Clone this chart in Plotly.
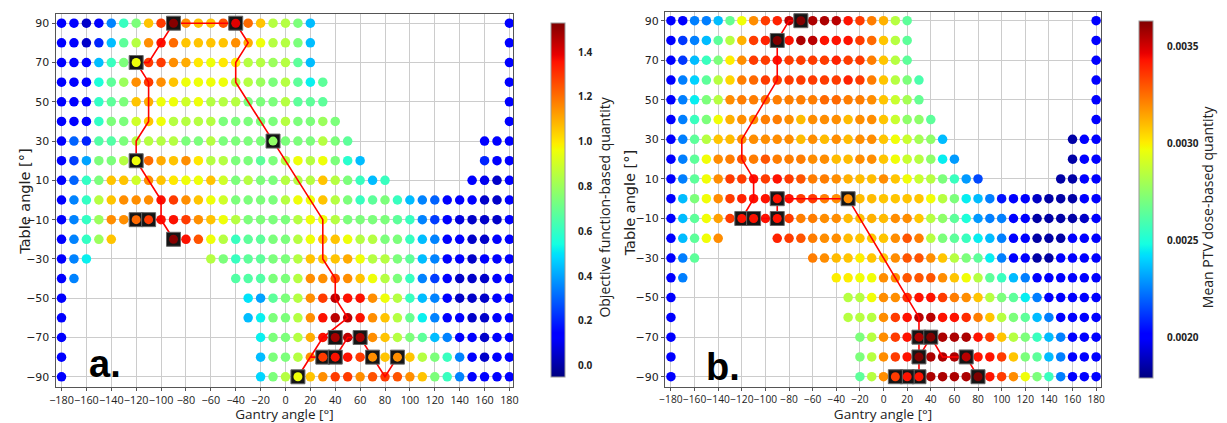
import numpy as np
import plotly.graph_objects as go

# ---------------- data ----------------
gantry = list(range(-180, 181, 10))          # columns
table = list(range(90, -91, -10))            # rows (top -> bottom)
_ = None

# Panel a: objective function-based quantity (rows = table angle 90 .. -90, cols = gantry -180 .. 180)
objective_rows = [
    [.14,.14,.05,.14,.35,.61,.74,1.06,1.29,1.52,1.15,1.06,1.06,1.25,1.40,1.21,1.06,.85, .85,.74,.44, _,_,_,_,_,_,_,_,_,_,_,_,_,_,_, .14],
    [.14,.14,.05,.20,.44,.68,.85,1.15,1.36,1.21,1.06,1.06,1.06,1.06,1.15,1.10,.96,.85, .85,.74,.44, _,_,_,_,_,_,_,_,_,_,_,_,_,_,_, .14],
    [.14,.14,.14,.44,.61,.74,.96,1.29,1.29,1.15,1.10,1.00,.96,1.00,1.00,.85,.85,.80, .85,.68,.44, _,_,_,_,_,_,_,_,_,_,_,_,_,_,_, .14],
    [.14,.14,.14,.56,.68,.80,1.15,1.29,1.15,1.06,.96,.96,.96,.96,.85,.85,.80,.74, .85,.68,.52,.68, _,_,_,_,_,_,_,_,_,_,_,_,_,_, .14],
    [.14,.14,.14,.60,.68,.74,1.06,1.10,.96,.96,.90,.96,.85,.85,.85,.74,.74,.74, .85,.68,.68,.68, _,_,_,_,_,_,_,_,_,_,_,_,_,_, .14],
    [.14,.14,.14,.60,.74,.74,.90,1.06,.96,.85,.85,.85,.85,.74,.74,.74,.74,.74, .85,.74,.74,.80,.74, _,_,_,_,_,_,_,_,_,_,_,_,_, .14],
    [.14,.30,.20,.66,.66,.74,.85,.85,.85,.85,.74,.74,.85,.74,.74,.74,.74,.78, .74,.74,.74,.85,.74,.68, _,_,_,_,_,_,_,_,_,_, .14,.14,.14],
    [.14,.24,.40,.74,.74,.85,.96,1.21,1.10,1.06,1.15,1.00,.85,.85,.74,.74,.68,.74, .85,.96,.85,.96,.74,.58,.44, _,_,_,_,_,_,_,_,_, .20,.14,.14],
    [.14,.30,.60,.74,1.06,1.06,.90,1.15,1.06,1.00,.96,.96,1.06,.90,.74,.85,.74,.74, .85,.85,.85,1.06,.85,.74,.61,.44,.61, _,_,_,_,_,_, .14,.10,.05,.14],
    [.14,.35,.60,.85,1.06,1.15,1.15,1.15,1.36,1.29,1.15,1.06,.96,.90,.74,.74,.74,.74, .85,.96,.96,1.06,.85,.74,.61,.68,.74,.61,.44,.35,.30,.14,.14,.14,.05,.05,.14],
    [.14,.35,.60,.80,1.15,1.15,1.21,1.29,1.36,1.36,1.29,1.15,1.06,.96,.85,.74,.74,.74, .74,.85,.96,.96,.85,.74,.74,.74,.74,.68,.61,.35,.24,.14,.08,.05,.05,.05,.14],
    [.14,.35,.60,.80,1.06, _,_,_,_, 1.52,1.36,1.25,.96,.85,.61,.68,.68,.74, .74,.85,.96,1.06,1.06,.96,.85,.85,.74,.74,.61,.44,.35,.14,.14,.05,.05,.14,.14],
    [.14,.35,.52, _,_,_,_,_,_,_,_,_, .85,.74,.61,.68,.68,.74, .74,.85,1.06,1.06,1.06,1.10,.96,.85,.85,.74,.68,.44,.35,.14,.14,.05,.14,.14,.14],
    [.14,.35, _,_,_,_,_,_,_,_,_,_,_,_, .66,.66,.66,.74, .74,.85,1.15,1.15,1.25,1.15,1.06,.96,.85,.74,.61,.35,.24,.14,.05,.05,.05,.14,.14],
    [.14, _,_,_,_,_,_,_,_,_,_,_,_,_,_, .50,.40,.68, .74,.85,1.15,1.29,1.45,1.36,1.36,1.15,.96,.85,.61,.44,.35,.14,.05,.05,.05,.14,.14],
    [.14, _,_,_,_,_,_,_,_,_,_,_,_,_,_, .44,.52,.74, .74,.85,1.15,1.36,1.45,1.45,1.36,1.15,1.06,.85,.70,.52,.35,.14,.14,.05,.05,.14,.14],
    [.14, _,_,_,_,_,_,_,_,_,_,_,_,_,_,_, .52,.74, .74,.85,1.10,1.36,1.48,1.45,1.48,1.15,1.06,.85,.74,.68,.44,.35,.14,.14,.05,.14,.14],
    [.14, _,_,_,_,_,_,_,_,_,_,_,_,_,_,_, .44,.74, .74,.85,1.15,1.29,1.36,1.36,1.29,1.15,1.06,1.15,1.06,.85,.74,.61,.35,.14,.05,.14,.14],
    [.14, _,_,_,_,_,_,_,_,_,_,_,_,_,_,_, .48,.74, .85,.96,1.06,1.15,1.29,1.29,1.15,1.25,1.29,1.25,1.15,1.06,.74,.61,.35,.14,.14,.14,.14],
]

# Panel b: mean PTV dose-based quantity
ptv_rows = [
    [.00201,.00201,.00225,.00225,.00236,.00266,.00297,.00319,.00335,.00340,.00354,.00363,.00356,.00356,.00354,.00343,.00335,.00322, .00312,.00284,.00264, _,_,_,_,_,_,_,_,_,_,_,_,_,_,_, .00201],
    [.00201,.00212,.00225,.00236,.00264,.00284,.00312,.00335,.00340,.00363,.00343,.00356,.00354,.00343,.00343,.00343,.00335,.00326, .00308,.00284,.00264, _,_,_,_,_,_,_,_,_,_,_,_,_,_,_, .00201],
    [.00201,.00212,.00236,.00256,.00271,.00300,.00319,.00335,.00335,.00343,.00335,.00335,.00335,.00335,.00340,.00335,.00335,.00322, .00308,.00284,.00264, _,_,_,_,_,_,_,_,_,_,_,_,_,_,_, .00201],
    [.00201,.00225,.00240,.00264,.00284,.00305,.00322,.00326,.00335,.00335,.00335,.00335,.00335,.00335,.00335,.00340,.00335,.00322, .00308,.00284,.00271,.00260, _,_,_,_,_,_,_,_,_,_,_,_,_,_, .00201],
    [.00201,.00225,.00245,.00271,.00284,.00319,.00322,.00322,.00326,.00322,.00322,.00322,.00322,.00326,.00326,.00322,.00322,.00319, .00308,.00288,.00280,.00266, _,_,_,_,_,_,_,_,_,_,_,_,_,_, .00201],
    [.00201,.00225,.00256,.00271,.00297,.00312,.00319,.00319,.00322,.00322,.00319,.00310,.00319,.00319,.00319,.00310,.00319,.00319, .00308,.00288,.00275,.00275,.00264, _,_,_,_,_,_,_,_,_,_,_,_,_, .00201],
    [.00201,.00225,.00264,.00284,.00308,.00310,.00319,.00319,.00319,.00319,.00319,.00310,.00319,.00310,.00319,.00310,.00319,.00319, .00308,.00297,.00288,.00280,.00275,.00236, _,_,_,_,_,_,_,_,_,_, .00185,.00201,.00201],
    [.00201,.00225,.00264,.00297,.00319,.00322,.00330,.00322,.00330,.00322,.00322,.00322,.00319,.00319,.00310,.00310,.00319,.00319, .00308,.00297,.00288,.00284,.00275,.00245,.00230, _,_,_,_,_,_,_,_,_, .00185,.00201,.00201],
    [.00201,.00225,.00264,.00297,.00319,.00335,.00335,.00343,.00335,.00343,.00335,.00330,.00322,.00322,.00319,.00312,.00310,.00310, .00319,.00308,.00297,.00288,.00284,.00271,.00256,.00230,.00215, _,_,_,_,_,_, .00185,.00185,.00201,.00201],
    [.00201,.00236,.00271,.00297,.00319,.00335,.00340,.00343,.00343,.00343,.00343,.00335,.00335,.00322,.00319,.00319,.00310,.00310, .00308,.00308,.00308,.00308,.00297,.00284,.00271,.00245,.00236,.00225,.00205,.00201,.00201,.00190,.00185,.00185,.00185,.00201,.00201],
    [.00201,.00236,.00264,.00297,.00315,.00335,.00343,.00343,.00343,.00343,.00335,.00322,.00322,.00319,.00319,.00310,.00310,.00312, .00310,.00319,.00319,.00308,.00284,.00275,.00264,.00250,.00230,.00225,.00225,.00201,.00201,.00185,.00185,.00185,.00185,.00190,.00201],
    [.00201,.00236,.00264,.00297,.00319, _,_,_,_, .00340,.00335,.00330,.00322,.00319,.00319,.00310,.00308,.00308, .00308,.00319,.00330,.00322,.00284,.00271,.00264,.00256,.00245,.00236,.00225,.00201,.00201,.00185,.00185,.00185,.00201,.00201,.00201],
    [.00201,.00225,.00264, _,_,_,_,_,_,_,_,_, .00322,.00319,.00310,.00308,.00300,.00308, .00308,.00319,.00330,.00330,.00319,.00308,.00284,.00271,.00264,.00245,.00225,.00201,.00201,.00185,.00185,.00201,.00201,.00201,.00201],
    [.00201,.00225, _,_,_,_,_,_,_,_,_,_,_,_, .00300,.00300,.00297,.00297, .00319,.00319,.00330,.00330,.00330,.00319,.00308,.00297,.00284,.00264,.00256,.00236,.00225,.00201,.00201,.00201,.00201,.00201,.00201],
    [.00201, _,_,_,_,_,_,_,_,_,_,_,_,_,_, .00284,.00284,.00297, .00319,.00319,.00338,.00343,.00343,.00335,.00322,.00319,.00308,.00284,.00271,.00264,.00245,.00225,.00201,.00201,.00201,.00201,.00201],
    [.00201, _,_,_,_,_,_,_,_,_,_,_,_,_,_, .00284,.00284,.00284, .00319,.00335,.00343,.00354,.00354,.00343,.00343,.00338,.00322,.00308,.00284,.00271,.00264,.00236,.00225,.00201,.00201,.00201,.00201],
    [.00201, _,_,_,_,_,_,_,_,_,_,_,_,_,_,_, .00271,.00284, .00319,.00335,.00343,.00356,.00363,.00356,.00356,.00356,.00343,.00335,.00308,.00284,.00271,.00256,.00236,.00225,.00201,.00201,.00201],
    [.00201, _,_,_,_,_,_,_,_,_,_,_,_,_,_,_, .00271,.00284, .00319,.00335,.00343,.00363,.00356,.00356,.00356,.00354,.00343,.00343,.00335,.00308,.00271,.00264,.00236,.00225,.00201,.00201,.00201],
    [.00201, _,_,_,_,_,_,_,_,_,_,_,_,_,_,_, .00264,.00284, .00319,.00335,.00343,.00343,.00356,.00356,.00356,.00356,.00363,.00343,.00335,.00319,.00297,.00271,.00256,.00225,.00201,.00201,.00201],
]

# Paths (trajectories) and selected angle pairs
path_a_gantry = [90, 80, 70, 60, 50, 40, 30, 20, 10, 20, 30, 40, 30, 50, 40, 40, 30, 30, -10, -40,
                 -40, -30, -40, -90, -110, -120, -110, -110, -120, -120, -100, -100, -90, -100, -120]
path_a_table = [-80, -90, -80, -70, -70, -80, -80, -80, -90, -80, -70, -70, -70, -60, -50, -40, -30, -10, 30, 60,
                70, 80, 90, 90, 70, 70, 60, 40, 30, 20, 0, -10, -20, -10, -10]
sel_a_gantry = [-90, -40, -120, -10, -120, -120, -110, -90, 10, 30, 40, 40, 60, 70, 90]
sel_a_table = [90, 90, 70, 30, 20, -10, -10, -20, -90, -80, -80, -70, -70, -80, -80]

path_b_gantry = [-70, -80, -90, -90, -120, -120, -110, -110, -120, -90, -90, -30, 30, 30, 10, 30, 30, 40, 50, 70, 80]
path_b_table = [90, 90, 80, 60, 30, 20, 10, 0, -10, -10, 0, 0, -60, -90, -90, -90, -80, -70, -80, -80, -90]
sel_b_gantry = [-70, -90, -120, -110, -90, -90, -30, 30, 40, 30, 30, 20, 10, 70, 80]
sel_b_table = [90, 80, -10, -10, -10, 0, 0, -70, -70, -80, -90, -90, -90, -80, -90]

cbar_a_ticks = [0.0, 0.2, 0.4, 0.6, 0.8, 1.0, 1.2, 1.4]
cbar_b_ticks = [0.0020, 0.0025, 0.0030, 0.0035]

# ---------------- helpers ----------------
def flatten(rows):
    xs, ys, vs = [], [], []
    for t, row in zip(table, rows):
        assert len(row) == len(gantry), (t, len(row))
        for g, v in zip(gantry, row):
            if v is not None:
                xs.append(g); ys.append(t); vs.append(v)
    return xs, ys, vs

def lookup(rows, gs, ts):
    return [rows[table.index(t)][gantry.index(g)] for g, t in zip(gs, ts)]

# matplotlib "jet"
seg = {
    'r': [(0, 0), (0.35, 0), (0.66, 1), (0.89, 1), (1, 0.5)],
    'g': [(0, 0), (0.125, 0), (0.375, 1), (0.64, 1), (0.91, 0), (1, 0)],
    'b': [(0, 0.5), (0.11, 1), (0.34, 1), (0.65, 0), (1, 0)],
}
stops = sorted(set(p for s in seg.values() for p, q in s))
jet = []
for p in stops:
    rgb = [np.interp(p, [a for a, b in seg[c]], [b for a, b in seg[c]]) for c in 'rgb']
    jet.append([p, 'rgb(%d,%d,%d)' % tuple(int(round(255 * v)) for v in rgb)])

W, H = 1227, 423
def px_x(v): return v / W
def px_y(v): return 1 - v / H

fig = go.Figure()

panels = [
    dict(rows=objective_rows, pg=path_a_gantry, pt=path_a_table, sg=sel_a_gantry, st=sel_a_table,
         xa='x', ya='y', ca='coloraxis'),
    dict(rows=ptv_rows, pg=path_b_gantry, pt=path_b_table, sg=sel_b_gantry, st=sel_b_table,
         xa='x2', ya='y2', ca='coloraxis2'),
]
for p in panels:
    xs, ys, vs = flatten(p['rows'])
    fig.add_trace(go.Scatter(x=xs, y=ys, mode='markers', xaxis=p['xa'], yaxis=p['ya'],
                             marker=dict(color=vs, coloraxis=p['ca'], size=9.5, line=dict(width=0)),
                             showlegend=False, hoverinfo='x+y'))
    fig.add_trace(go.Scatter(x=p['pg'], y=p['pt'], mode='lines', xaxis=p['xa'], yaxis=p['ya'],
                             line=dict(color='#ff0000', width=1.6), showlegend=False, hoverinfo='skip'))
    fig.add_trace(go.Scatter(x=p['sg'], y=p['st'], mode='markers', xaxis=p['xa'], yaxis=p['ya'],
                             marker=dict(symbol='square', size=14, color='#151515',
                                         line=dict(width=1, color='#666666')),
                             showlegend=False, hoverinfo='skip'))
    fig.add_trace(go.Scatter(x=p['sg'], y=p['st'], mode='markers', xaxis=p['xa'], yaxis=p['ya'],
                             marker=dict(color=lookup(p['rows'], p['sg'], p['st']), coloraxis=p['ca'],
                                         size=9, line=dict(width=0)),
                             showlegend=False, hoverinfo='skip'))

tickfont_y = dict(family='DejaVu Sans', size=11, color='#222222')
title_x = dict(family='Open Sans', size=13.5, color='#222222')
title_y = dict(family='DejaVu Sans', size=14.5, color='#222222')

def xaxis_cfg(domain, rng, anchor, fsize):
    return dict(domain=domain, range=rng, anchor=anchor, tickvals=list(range(-180, 181, 20)),
                tickangle=0,
                showgrid=True, gridcolor='#cccccc', gridwidth=1, zeroline=False,
                showline=True, mirror=True, linecolor='#555555', linewidth=1,
                ticks='outside', ticklen=3, tickcolor='#555555',
                tickfont=dict(family='Open Sans', size=fsize, color='#222222'),
                title=dict(text='Gantry angle [°]', font=title_x, standoff=4))

def yaxis_cfg(domain, rng, anchor):
    return dict(domain=domain, range=rng, anchor=anchor, tickvals=list(range(90, -91, -20)),
                showgrid=True, gridcolor='#cccccc', gridwidth=1, zeroline=False,
                showline=True, mirror=True, linecolor='#555555', linewidth=1,
                ticks='outside', ticklen=3, tickcolor='#555555', tickfont=tickfont_y)

cb_tickfont = dict(family='Open Sans', size=10, color='#222222', weight='bold')
cb_titlefont = dict(family='Open Sans', size=14, color='#222222')

def vtext(text, x, y, font):
    return dict(text=text, xref='paper', yref='paper', x=px_x(x), y=px_y(y), xanchor='center',
                yanchor='middle', textangle=-90, showarrow=False, font=font)

fig.update_layout(
    width=W, height=H, margin=dict(l=0, r=0, t=0, b=0),
    paper_bgcolor='white', plot_bgcolor='white',
    xaxis=xaxis_cfg([px_x(50), px_x(512)], [-184.8, 183.2], 'y', 10.8),
    yaxis=yaxis_cfg([px_y(387), px_y(14)], [-95.2, 94.7], 'x'),
    xaxis2=xaxis_cfg([px_x(665), px_x(1105)], [-185, 184.2], 'y2', 10.2),
    yaxis2=yaxis_cfg([px_y(387), px_y(12)], [-95.2, 94.4], 'x2'),
    coloraxis=dict(colorscale=jet, cmin=-0.05, cmax=1.53,
                   colorbar=dict(x=px_x(540), xanchor='left', y=px_y(200), yanchor='middle',
                                 len=374 / H, lenmode='fraction', thickness=14, thicknessmode='pixels',
                                 outlinewidth=1, outlinecolor='#999999',
                                 tickvals=cbar_a_ticks, tickformat='.1f', ticks='outside', ticklen=11,
                                 tickcolor='rgba(0,0,0,0)', tickfont=cb_tickfont)),
    coloraxis2=dict(colorscale=jet, cmin=0.00179, cmax=0.00363,
                    colorbar=dict(x=px_x(1133), xanchor='left', y=px_y(199.5), yanchor='middle',
                                  len=377 / H, lenmode='fraction', thickness=14, thicknessmode='pixels',
                                  outlinewidth=1, outlinecolor='#999999',
                                  tickvals=cbar_b_ticks, tickformat='.4f', ticks='outside', ticklen=12,
                                  tickcolor='rgba(0,0,0,0)', tickfont=cb_tickfont)),
    annotations=[
        vtext('Table angle [°]', 19, 201, title_y),
        vtext('Table angle [°]', 630, 203, title_y),
        vtext('Objective function-based quantity', 604, 207, cb_titlefont),
        vtext('Mean PTV dose-based quantity', 1213, 207, cb_titlefont),
        dict(text='a.', xref='paper', yref='paper', x=px_x(82), y=px_y(364), xanchor='left', yanchor='middle',
             showarrow=False, font=dict(family='Liberation Sans', size=38, color='black', weight='bold')),
        dict(text='b.', xref='paper', yref='paper', x=px_x(704), y=px_y(367), xanchor='left', yanchor='middle',
             showarrow=False, font=dict(family='Liberation Sans', size=38, color='black', weight='bold')),
    ],
)

fig.write_html('out.html')
